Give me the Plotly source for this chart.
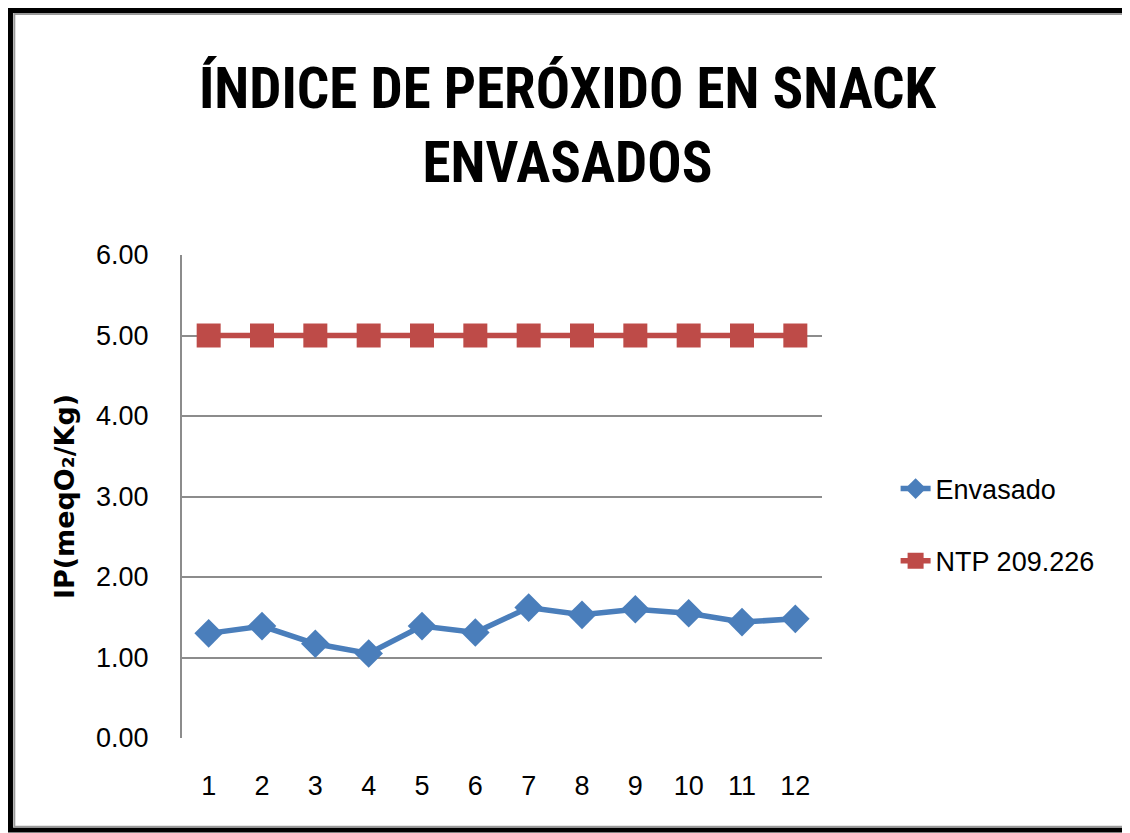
import plotly.graph_objects as go

categories = [1, 2, 3, 4, 5, 6, 7, 8, 9, 10, 11, 12]
envasado = [1.30, 1.39, 1.17, 1.05, 1.39, 1.31, 1.62, 1.53, 1.60, 1.55, 1.44, 1.48]
ntp = [5.00] * 12
y_ticks = [0, 1, 2, 3, 4, 5, 6]
y_tick_labels = ["0.00", "1.00", "2.00", "3.00", "4.00", "5.00", "6.00"]

TXT = "Liberation Sans, Arial, sans-serif"
COND = '<span style="font-stretch:condensed"><b>{}</b></span>'

fig = go.Figure()
fig.add_trace(go.Scatter(
    x=categories, y=envasado, name="Envasado", mode="lines+markers",
    legendgroup="a",
    line=dict(color="#4A7EBB", width=5.5),
    marker=dict(symbol="diamond", size=22, color="#4A7EBB"),
))
fig.add_trace(go.Scatter(
    x=categories, y=ntp, name="NTP 209.226", mode="lines+markers",
    legendgroup="b",
    line=dict(color="#BE4B48", width=5.5),
    marker=dict(symbol="square", size=24, color="#BE4B48"),
))

fig.update_layout(
    width=1122, height=825,
    paper_bgcolor="white", plot_bgcolor="white",
    margin=dict(l=174, r=308, t=247, b=95),
    title=dict(
        text=COND.format("ÍNDICE DE PERÓXIDO EN SNACK") + "<br>" + COND.format("ENVASADOS"),
        x=0.4987, xanchor="center", y=0.879, yanchor="middle",
        font=dict(family="Roboto", size=57, color="black"),
    ),
    font=dict(family=TXT, color="black"),
    showlegend=True,
    legend=dict(
        x=1.115, xanchor="left", y=0.441, yanchor="middle",
        font=dict(family=TXT, size=27, color="black"),
        tracegroupgap=34,
        bgcolor="rgba(0,0,0,0)",
    ),
    xaxis=dict(
        type="linear", range=[0.5, 12.5],
        tickmode="array", tickvals=categories, ticktext=[str(c) for c in categories],
        showgrid=False, zeroline=False, showline=False,
        tickfont=dict(family=TXT, size=27, color="black"),
        ticks="", ticklabelstandoff=29,
    ),
    yaxis=dict(
        range=[0, 6], tickmode="array", tickvals=y_ticks, ticktext=y_tick_labels,
        showgrid=True, gridcolor="#8C8C8C", gridwidth=2,
        zeroline=False, showline=True, linecolor="#8C8C8C", linewidth=2,
        tickfont=dict(family=TXT, size=27, color="black"),
        ticks="", ticklabelstandoff=26,
        title=dict(text="<b>IP(meqO₂/Kg)</b>",
                   font=dict(family="DejaVu Sans, sans-serif", size=27, color="black"),
                   standoff=14),
    ),
    shapes=[
        dict(type="rect", xref="paper", yref="paper",
             x0=-0.268, x1=1.4766, y0=-0.1905, y1=1.506,
             line=dict(color="black", width=5), fillcolor="rgba(0,0,0,0)", layer="below"),
        dict(type="rect", xref="paper", yref="paper",
             x0=-0.262, x1=1.4706, y0=-0.1835, y1=1.499,
             line=dict(color="#9A9A9A", width=2), fillcolor="rgba(0,0,0,0)", layer="below"),
    ],
)

fig.write_html("out.html")
